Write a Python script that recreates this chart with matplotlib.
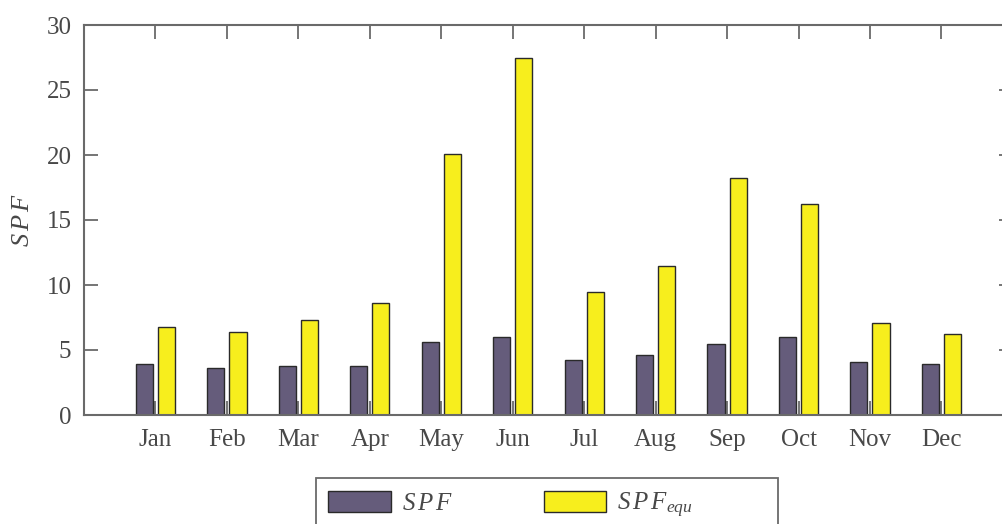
import matplotlib
matplotlib.use("Agg")
import matplotlib.pyplot as plt
from matplotlib.patches import Patch, Rectangle
import numpy as np

months = ["Jan", "Feb", "Mar", "Apr", "May", "Jun", "Jul", "Aug", "Sep", "Oct", "Nov", "Dec"]
spf = [3.9, 3.6, 3.8, 3.8, 5.6, 6.0, 4.2, 4.6, 5.5, 6.0, 4.1, 3.9]
spf_equ = [6.8, 6.4, 7.3, 8.6, 20.1, 27.5, 9.5, 11.5, 18.2, 16.2, 7.1, 6.2]
yticks = [0, 5, 10, 15, 20, 25, 30]

plt.rcParams['font.family'] = ['Liberation Serif', 'DejaVu Serif']
plt.rcParams['mathtext.fontset'] = 'custom'
plt.rcParams['mathtext.rm'] = 'Liberation Serif'
plt.rcParams['mathtext.it'] = 'Liberation Serif:italic'

c_spf = '#655c7b'
c_equ = '#f7ee1d'
axc = '#6a6a6a'
txtc = '#484848'

fig = plt.figure(figsize=(10.03, 5.24), dpi=100)
ax = fig.add_axes([84/1003, 109/524, 13*71.45/1003, 390/524])

x = np.arange(1, len(months) + 1)
w = 0.24
ax.bar(x - 0.155, spf, width=w, color=c_spf, edgecolor='#2a2a2a', linewidth=1.0, zorder=2)
ax.bar(x + 0.155, spf_equ, width=w, color=c_equ, edgecolor='#2a2a2a', linewidth=1.0, zorder=2)

ax.set_xlim(0, 13)
ax.set_ylim(0, 30)
ax.set_xticks(x)
ax.set_xticklabels(months)
ax.set_yticks(yticks)
ax.tick_params(axis='both', direction='in', length=10, width=1.3, color=axc,
               labelsize=18, labelcolor=txtc, top=True, right=True)
ax.tick_params(axis='x', pad=10)
ax.tick_params(axis='y', pad=9)
for s in ax.spines.values():
    s.set_color(axc)
    s.set_linewidth(1.5)

ax.set_ylabel(r'$S\,P\,F$', fontsize=19, color=txtc, labelpad=9)

handles = [Patch(facecolor=c_spf, edgecolor='#2a2a2a'), Patch(facecolor=c_equ, edgecolor='#2a2a2a')]
leg = fig.legend(handles, [r'$S\,P\,F$', r'$S\,P\,F_{equ}$'], ncol=2, loc='upper left',
                 bbox_to_anchor=(316/1003, 1 - 478/524), fontsize=18, frameon=False,
                 handlelength=2.5, handleheight=0.9,
                 columnspacing=3.6, borderpad=0.5, handletextpad=0.45, labelcolor=txtc,
                 borderaxespad=0)

# legend frame, wider than its entries as in the reference
fig.patches.append(Rectangle((316/1003, -0.05), 462/1003, 1 - 478/524 + 0.05,
                             transform=fig.transFigure, fill=False,
                             edgecolor=axc, linewidth=1.3))

fig.savefig('out.png', dpi=100)
